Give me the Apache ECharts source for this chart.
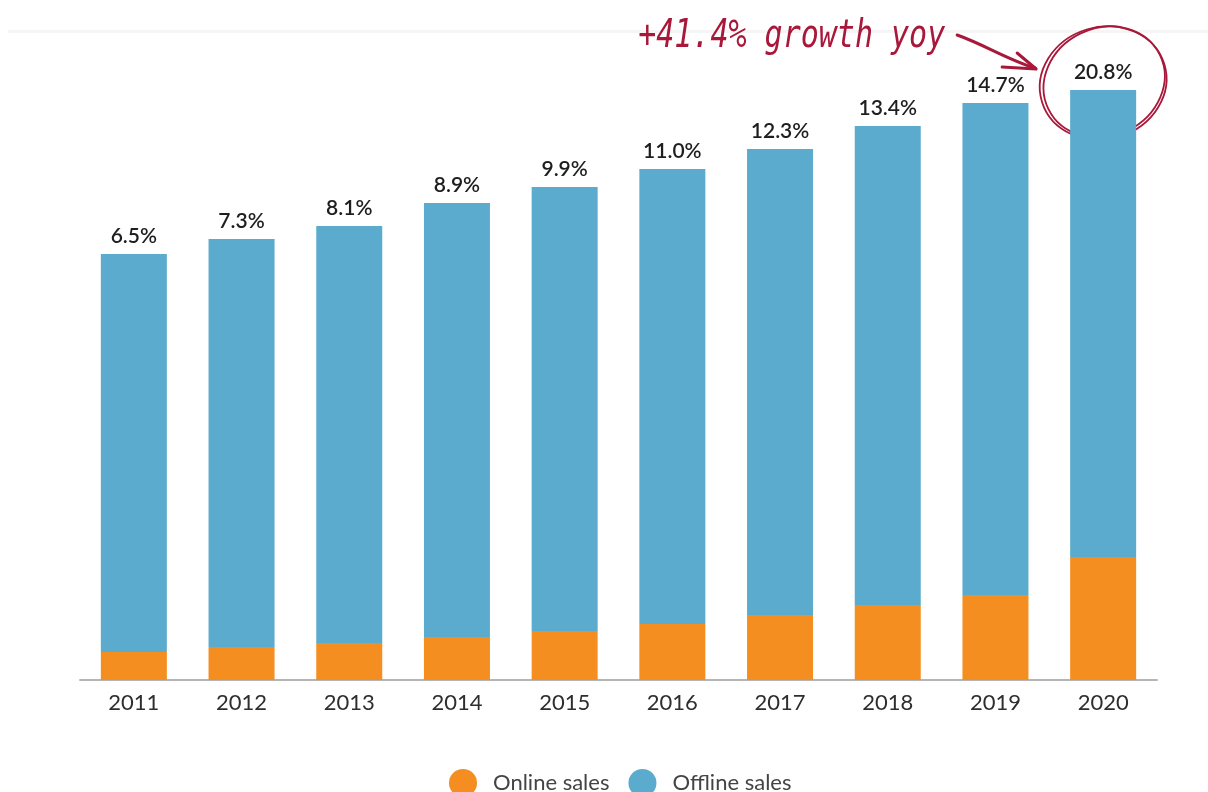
<!DOCTYPE html>
<html>
<head>
<meta charset="utf-8">
<script src="https://cdn.jsdelivr.net/npm/echarts@6/dist/echarts.min.js"></script>
<style>
    html, body { margin: 0; padding: 0; background: #fff; }
    #chart { width: 1208px; height: 792px; }
</style>
</head>
<body>
<div id="chart"></div>
<script>
// 数据：年份、线上/线下销售额（同一单位），以及柱顶显示的线上占比
const years = ['2011', '2012', '2013', '2014', '2015', '2016', '2017', '2018', '2019', '2020'];
const onlineSales = [28, 33, 37, 43, 49, 56, 65, 75, 85, 123];
const offlineSales = [398, 408, 417, 434, 444, 455, 466, 479, 492, 467];
const shareLabels = ['6.5%', '7.3%', '8.1%', '8.9%', '9.9%', '11.0%', '12.3%', '13.4%', '14.7%', '20.8%'];
const noteText = '+41.4% growth yoy';

const ORANGE = '#F58E20';
const BLUE = '#5AABCD';
const INK = '#A8183A';

const chart = echarts.init(document.getElementById('chart'));

const option = {
    animation: false,
    grid: { left: 80, right: 51, top: 80, bottom: 112 },
    legend: {
        data: ['Online sales', 'Offline sales'],
        left: 444, top: 764,
        icon: 'circle',
        itemWidth: 28, itemHeight: 28, itemGap: 19,
        textStyle: { fontFamily: 'Lato', fontSize: 22, color: '#444', padding: [0, 0, 0, 11] }
    },
    xAxis: {
        type: 'category',
        data: years,
        axisTick: { show: false },
        axisLine: { lineStyle: { color: '#b5b5b5', width: 2 } },
        axisLabel: { fontFamily: 'Lato', fontSize: 22, color: '#2e2e2e', margin: 12 }
    },
    yAxis: { type: 'value', min: 0, max: 600, show: false, splitLine: { show: false } },
    series: [
        {
            name: 'Online sales', type: 'bar', stack: 'sales',
            barWidth: 66, data: onlineSales,
            itemStyle: { color: ORANGE }
        },
        {
            name: 'Offline sales', type: 'bar', stack: 'sales',
            barWidth: 66, data: offlineSales,
            itemStyle: { color: BLUE },
            label: {
                show: true, position: 'top', distance: 7,
                fontFamily: 'Lato', fontSize: 21, fontWeight: 600, color: '#1e1e1e',
                formatter: (p) => shareLabels[p.dataIndex]
            }
        }
    ]
};
chart.setOption(option);

// 注释：以 2020 柱顶为锚点放置手写风格的圈和箭头
const last = years.length - 1;
const [cx, cy] = chart.convertToPixel({ gridIndex: 0 }, [years[last], onlineSales[last] + offlineSales[last]]);
const stroke = { stroke: INK, fill: null, lineWidth: 1.8 };

chart.setOption({
    graphic: [
        { type: 'rect', shape: { x: 8, y: 30, width: 1200, height: 3 }, style: { fill: '#f5f5f5' }, silent: true },
        {
            type: 'text', x: cx - 465, y: cy - 34, scaleY: 1.3,
            style: {
                text: noteText, x: 0, y: 0,
                fontFamily: 'DejaVu Sans Mono', fontStyle: 'italic', fontSize: 30,
                fill: INK, verticalAlign: 'bottom'
            }
        },
        {
            type: 'bezierCurve',
            shape: { x1: cx - 146, y1: cy - 55, cpx1: cx - 118, cpy1: cy - 45, cpx2: cx - 95, cpy2: cy - 30, x2: cx - 68, y2: cy - 22 },
            style: { stroke: INK, fill: null, lineWidth: 3, lineCap: 'round' }
        },
        {
            type: 'polyline',
            shape: { points: [[cx - 86, cy - 37], [cx - 67, cy - 21], [cx - 101, cy - 23]] },
            style: { stroke: INK, fill: null, lineWidth: 3, lineCap: 'round', lineJoin: 'round' }
        },
        { type: 'ellipse', x: cx, y: cy - 7, rotation: 0.3, shape: { cx: 0, cy: 0, rx: 64, ry: 56 }, style: stroke },
        { type: 'ellipse', x: cx + 1, y: cy - 8, rotation: 0.45, shape: { cx: 0, cy: 0, rx: 62, ry: 54 }, style: stroke }
    ]
});

window.addEventListener('resize', () => chart.resize());
</script>
</body>
</html>
